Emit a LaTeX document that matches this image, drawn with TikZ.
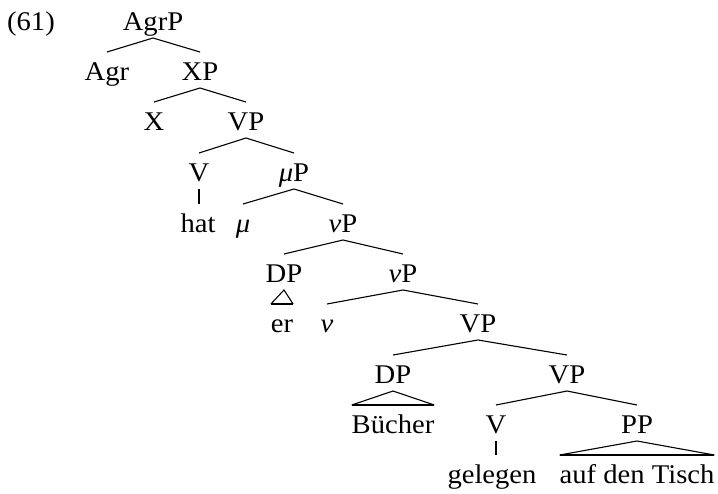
\documentclass[tikz,border=0pt]{standalone}
\usepackage{fontspec}
\setmainfont[FakeStretch=1.06]{Liberation Serif}
\begin{document}
\begin{tikzpicture}[x=0.5pt,y=-0.5pt,
  lbl/.style={anchor=base,inner sep=0pt,outer sep=0pt,text height=14pt,text depth=4pt,font=\fontsize{13.5}{15}\selectfont},
  edge/.style={line width=0.55pt},
  roof/.style={line width=0.55pt,line join=miter},
  roofbase/.style={line width=0.9pt}]
\useasboundingbox (0,0) rectangle (718,493);
\node[lbl] (ex) at (31,30) {(61)};
\node[lbl] (agrp) at (153,30) {AgrP};
\node[lbl] (agr) at (107,80) {Agr};
\node[lbl] (xp) at (200,80) {XP};
\node[lbl] (x) at (154,130) {X};
\node[lbl] (vpa) at (246,130) {VP};
\node[lbl] (va) at (199,181) {V};
\node[lbl] (mup) at (294,181) {\textit{μ}P};
\node[lbl] (hat) at (198,232) {hat};
\node[lbl] (mu) at (243,232) {\textit{μ}};
\node[lbl] (nupa) at (343,232) {\textit{ν}P};
\node[lbl] (dpa) at (284,282) {DP};
\node[lbl] (nupb) at (403,282) {\textit{ν}P};
\node[lbl] (er) at (282,332) {er};
\node[lbl] (nu) at (327,332) {\textit{ν}};
\node[lbl] (vpb) at (478,332) {VP};
\node[lbl] (dpb) at (393,383) {DP};
\node[lbl] (vpc) at (567,383) {VP};
\node[lbl] (buecher) at (393,433) {Bücher};
\node[lbl] (vb) at (496,433) {V};
\node[lbl] (pp) at (637,433) {PP};
\node[lbl] (gelegen) at (492,483) {gelegen};
\node[lbl] (adt) at (637,483) {auf den Tisch};
\draw[edge] (agr.north) -- (agrp.south) -- (xp.north);
\draw[edge] (x.north) -- (xp.south) -- (vpa.north);
\draw[edge] (va.north) -- (vpa.south) -- (mup.north);
\draw[edge] (va.south) -- (va.south |- hat.north);
\draw[edge] (mu.north) -- (mup.south) -- (nupa.north);
\draw[edge] (dpa.north) -- (nupa.south) -- (nupb.north);
\draw[roof] (er.north west) -- (dpa.south) -- (er.north east);
\draw[roofbase] (er.north west) -- (er.north east);
\draw[edge] (nu.north) -- (nupb.south) -- (vpb.north);
\draw[edge] (dpb.north) -- (vpb.south) -- (vpc.north);
\draw[roof] (buecher.north west) -- (dpb.south) -- (buecher.north east);
\draw[roofbase] (buecher.north west) -- (buecher.north east);
\draw[edge] (vb.north) -- (vpc.south) -- (pp.north);
\draw[edge] (vb.south) -- (vb.south |- gelegen.north);
\draw[roof] (adt.north west) -- (pp.south) -- (adt.north east);
\draw[roofbase] (adt.north west) -- (adt.north east);
\end{tikzpicture}
\end{document}
